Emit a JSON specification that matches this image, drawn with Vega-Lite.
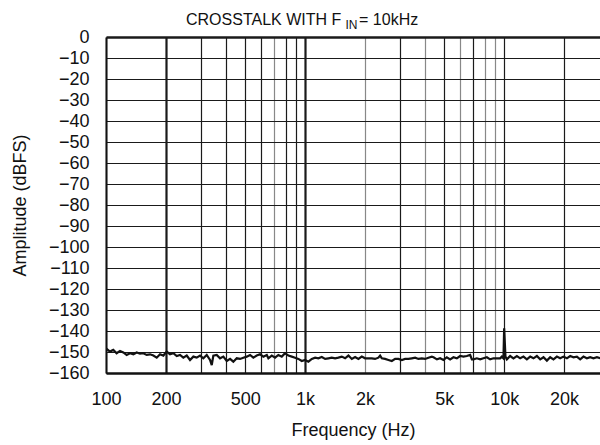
{
  "$schema": "https://vega.github.io/schema/vega-lite/v6.json",
  "width": 494,
  "height": 336,
  "autosize": {"type": "none"},
  "padding": {"left": 106, "top": 37, "right": 0, "bottom": 72},
  "background": "white",
  "config": {"view": {"stroke": null}, "font": "Liberation Sans"},
  "title": {
    "text": "CROSSTALK WITH F\u00a0\u00a0\u00a0\u00a0= 10kHz",
    "anchor": "start",
    "frame": "group",
    "dx": 80,
    "dy": 37,
    "baseline": "alphabetic",
    "offset": 14,
    "fontSize": 16,
    "fontWeight": "normal",
    "font": "Liberation Sans",
    "color": "#111"
  },
  "data": {
    "values": [
      {"f": 100, "db": -148.3}, {"f": 104.7, "db": -149.8}, {"f": 108.8, "db": -149.0}, {"f": 113.1, "db": -150.6},
      {"f": 117.6, "db": -149.5}, {"f": 122.2, "db": -150.2}, {"f": 127.0, "db": -151.4}, {"f": 132.0, "db": -150.6},
      {"f": 137.2, "db": -151.1}, {"f": 142.7, "db": -150.2}, {"f": 148.2, "db": -150.8}, {"f": 154.0, "db": -150.6},
      {"f": 160.1, "db": -151.4}, {"f": 166.4, "db": -151.1}, {"f": 172.9, "db": -151.7}, {"f": 179.8, "db": -152.7},
      {"f": 186.8, "db": -151.1}, {"f": 194.1, "db": -151.7}, {"f": 201.8, "db": -149.8}, {"f": 209.7, "db": -151.1},
      {"f": 217.9, "db": -150.6}, {"f": 226.6, "db": -151.9}, {"f": 235.4, "db": -151.4}, {"f": 244.6, "db": -152.7},
      {"f": 254.4, "db": -151.7}, {"f": 264.3, "db": -153.8}, {"f": 274.6, "db": -152.2}, {"f": 285.6, "db": -152.7},
      {"f": 296.8, "db": -151.7}, {"f": 308.3, "db": -153.0}, {"f": 320.6, "db": -151.4}, {"f": 333.1, "db": -153.8},
      {"f": 339.8, "db": -156.2}, {"f": 346.1, "db": -151.7}, {"f": 359.9, "db": -151.4}, {"f": 374.1, "db": -153.0},
      {"f": 388.6, "db": -152.2}, {"f": 404.2, "db": -154.3}, {"f": 420.0, "db": -153.3}, {"f": 436.2, "db": -154.6},
      {"f": 453.7, "db": -153.0}, {"f": 471.5, "db": -153.3}, {"f": 489.7, "db": -152.7}, {"f": 509.3, "db": -152.2},
      {"f": 529.2, "db": -151.4}, {"f": 549.8, "db": -152.7}, {"f": 571.9, "db": -151.7}, {"f": 594.1, "db": -151.1},
      {"f": 617.4, "db": -152.2}, {"f": 642.1, "db": -151.4}, {"f": 654.2, "db": -153.0}, {"f": 680.4, "db": -151.7},
      {"f": 706.8, "db": -152.7}, {"f": 734.3, "db": -151.4}, {"f": 763.8, "db": -152.2}, {"f": 793.5, "db": -150.6},
      {"f": 824.4, "db": -151.7}, {"f": 857.5, "db": -152.2}, {"f": 890.8, "db": -152.7}, {"f": 925.4, "db": -153.3},
      {"f": 962.5, "db": -154.3}, {"f": 1000, "db": -153.8}, {"f": 1039, "db": -154.6}, {"f": 1081, "db": -153.3},
      {"f": 1123, "db": -152.7}, {"f": 1166, "db": -153.0}, {"f": 1213, "db": -152.4}, {"f": 1261, "db": -153.3},
      {"f": 1310, "db": -153.0}, {"f": 1362, "db": -152.7}, {"f": 1415, "db": -153.0}, {"f": 1470, "db": -152.7},
      {"f": 1529, "db": -152.2}, {"f": 1589, "db": -153.0}, {"f": 1651, "db": -151.7}, {"f": 1717, "db": -153.3},
      {"f": 1784, "db": -152.4}, {"f": 1853, "db": -153.3}, {"f": 1927, "db": -152.2}, {"f": 2002, "db": -153.0},
      {"f": 2080, "db": -153.0}, {"f": 2163, "db": -153.0}, {"f": 2247, "db": -153.3}, {"f": 2335, "db": -152.7},
      {"f": 2382, "db": -151.7}, {"f": 2429, "db": -153.0}, {"f": 2523, "db": -153.3}, {"f": 2622, "db": -153.8},
      {"f": 2727, "db": -154.3}, {"f": 2834, "db": -153.3}, {"f": 2943, "db": -153.3}, {"f": 3061, "db": -153.8},
      {"f": 3181, "db": -153.3}, {"f": 3304, "db": -153.3}, {"f": 3438, "db": -153.0}, {"f": 3572, "db": -152.7},
      {"f": 3710, "db": -153.3}, {"f": 3858, "db": -153.0}, {"f": 4009, "db": -153.3}, {"f": 4165, "db": -152.7},
      {"f": 4331, "db": -152.2}, {"f": 4417, "db": -152.5}, {"f": 4596, "db": -153.5}, {"f": 4769, "db": -153.0},
      {"f": 4955, "db": -153.8}, {"f": 5153, "db": -152.5}, {"f": 5354, "db": -153.5}, {"f": 5563, "db": -152.5},
      {"f": 5785, "db": -153.0}, {"f": 6009, "db": -151.9}, {"f": 6244, "db": -152.2}, {"f": 6494, "db": -151.9},
      {"f": 6748, "db": -151.4}, {"f": 6883, "db": -153.5}, {"f": 7011, "db": -153.5}, {"f": 7292, "db": -153.0},
      {"f": 7576, "db": -153.5}, {"f": 7870, "db": -153.0}, {"f": 8186, "db": -152.5}, {"f": 8503, "db": -153.5},
      {"f": 8836, "db": -153.0}, {"f": 9190, "db": -153.0}, {"f": 9548, "db": -153.0}, {"f": 9736, "db": -152.2},
      {"f": 9919, "db": -153.0}, {"f": 10000, "db": -138.7}, {"f": 10151, "db": -152.2}, {"f": 10318, "db": -153.5},
      {"f": 10720, "db": -151.9}, {"f": 11136, "db": -153.0}, {"f": 11584, "db": -151.9}, {"f": 12035, "db": -153.0},
      {"f": 12503, "db": -152.2}, {"f": 13005, "db": -153.5}, {"f": 13513, "db": -152.2}, {"f": 14036, "db": -153.0},
      {"f": 14601, "db": -151.9}, {"f": 15169, "db": -153.5}, {"f": 15759, "db": -152.5}, {"f": 16392, "db": -154.1},
      {"f": 17030, "db": -152.5}, {"f": 17689, "db": -153.5}, {"f": 18401, "db": -152.2}, {"f": 19112, "db": -153.0},
      {"f": 19861, "db": -152.2}, {"f": 20660, "db": -153.0}, {"f": 21466, "db": -151.9}, {"f": 22296, "db": -152.5},
      {"f": 23192, "db": -152.2}, {"f": 24092, "db": -153.5}, {"f": 25026, "db": -152.2}, {"f": 26031, "db": -153.0},
      {"f": 27047, "db": -152.5}, {"f": 28096, "db": -153.0}, {"f": 29227, "db": -152.5}, {"f": 30370, "db": -153.0}
    ]
  },
  "resolve": {"axis": {"x": "independent"}},
  "layer": [
    {
      "mark": {"type": "line", "color": "#111", "strokeWidth": 2.2, "clip": true},
      "encoding": {
        "x": {
          "field": "f",
          "type": "quantitative",
          "scale": {"type": "log", "domain": [100, 30300], "nice": false},
          "axis": {
            "values": [100, 200, 300, 400, 500, 600, 700, 800, 900, 1000, 2000, 3000, 4000, 5000, 6000, 7000, 8000, 9000, 10000, 20000],
            "labelExpr": "indexof([100, 200, 500, 1000, 2000, 5000, 10000, 20000], datum.value) >= 0 ? (datum.value >= 1000 ? (datum.value / 1000) + 'k' : '' + datum.value) : ''",
            "title": "Frequency (Hz)",
            "grid": true,
            "gridColor": {"condition": {"test": "indexof([700, 2000, 4000, 6000, 8000, 9000], datum.value) >= 0", "value": "#888888"}, "value": "#1a1a1a"},
            "gridWidth": {"condition": {"test": "datum.value === 200 || datum.value === 1000", "value": 2.2}, "value": 1.2},
            "gridOpacity": 1,
            "ticks": false,
            "domain": true,
            "domainColor": "#111",
            "domainWidth": 2.5,
            "labelFont": "Liberation Sans",
            "labelFontSize": 18,
            "labelColor": "#111",
            "labelPadding": 17,
            "labelFlush": false,
            "labelOverlap": false,
            "titleFont": "Liberation Sans",
            "titleFontSize": 18,
            "titleFontWeight": "normal",
            "titleColor": "#111",
            "titlePadding": 13
          }
        },
        "y": {
          "field": "db",
          "type": "quantitative",
          "scale": {"domain": [-160, 0], "nice": false},
          "axis": {
            "values": [0, -10, -20, -30, -40, -50, -60, -70, -80, -90, -100, -110, -120, -130, -140, -150, -160],
            "title": "Amplitude (dBFS)",
            "grid": true,
            "gridColor": "#1a1a1a",
            "gridWidth": {"condition": {"test": "datum.value === 0", "value": 2.5}, "value": 1.2},
            "gridOpacity": 1,
            "ticks": false,
            "domain": true,
            "domainColor": "#111",
            "domainWidth": 2,
            "labelFont": "Liberation Sans",
            "labelFontSize": 18,
            "labelColor": "#111",
            "labelPadding": 17,
            "labelFlush": false,
            "labelOverlap": false,
            "titleFont": "Liberation Sans",
            "titleFontSize": 18,
            "titleFontWeight": "normal",
            "titleColor": "#111",
            "titlePadding": 19
          }
        }
      }
    },
    {
      "mark": {"type": "point", "opacity": 0},
      "encoding": {
        "x": {
          "field": "f",
          "type": "quantitative",
          "axis": {
            "orient": "top",
            "title": "IN",
            "labels": false,
            "ticks": false,
            "domain": false,
            "grid": false,
            "titleX": 239,
            "titleY": -9,
            "titleAlign": "left",
            "titleAnchor": null,
            "titleBaseline": "alphabetic",
            "titleFont": "Liberation Sans",
            "titleFontSize": 12,
            "titleFontWeight": "normal",
            "titleColor": "#111"
          }
        }
      }
    }
  ]
}
